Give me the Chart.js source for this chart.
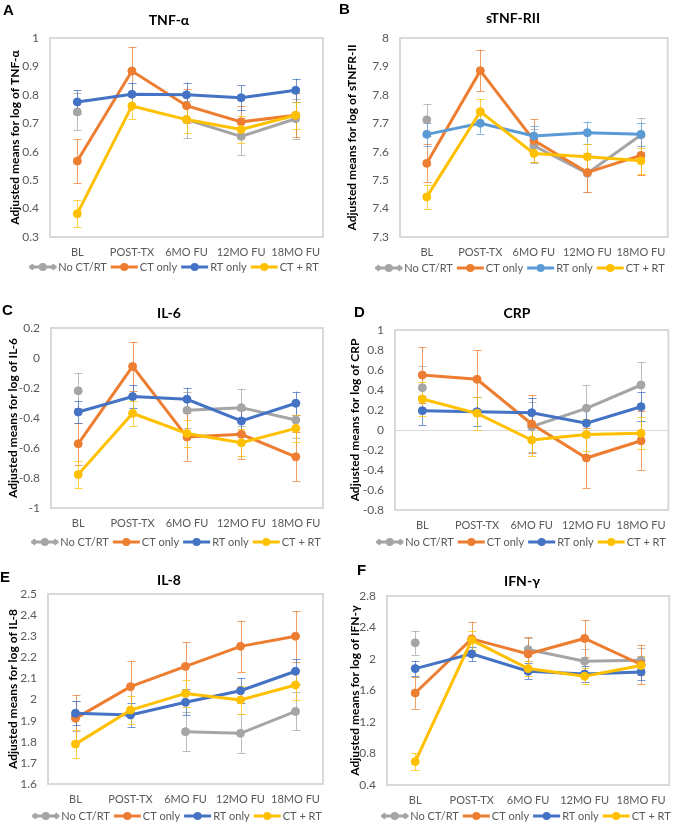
<!DOCTYPE html>
<html><head><meta charset="utf-8">
<script src="https://cdn.jsdelivr.net/npm/chart.js@4.4.1/dist/chart.umd.min.js"></script>
<style>
html,body{margin:0;padding:0;background:#fff;}
body{width:675px;height:823px;position:relative;overflow:hidden;}
canvas{position:absolute;display:block;}
</style></head><body>
<canvas id="cA" width="337" height="275" style="left:0;top:0"></canvas>
<canvas id="cB" width="338" height="275" style="left:337px;top:0"></canvas>
<canvas id="cC" width="337" height="273" style="left:0;top:275px"></canvas>
<canvas id="cD" width="338" height="273" style="left:337px;top:275px"></canvas>
<canvas id="cE" width="337" height="275" style="left:0;top:548px"></canvas>
<canvas id="cF" width="338" height="275" style="left:337px;top:548px"></canvas>
<script>
// ---- categories & series ----
const categories = ['BL', 'POST-TX', '6MO FU', '12MO FU', '18MO FU'];
const seriesNames = ['No CT/RT', 'CT only', 'RT only', 'CT + RT'];

// ---- A: TNF-alpha ----
const tnfTicks = [0.3, 0.4, 0.5, 0.6, 0.7, 0.8, 0.9, 1];
const tnfNoCTRT = [0.740, null, 0.713, 0.654, 0.716];
const tnfCTonly = [0.567, 0.884, 0.762, 0.705, 0.728];
const tnfRTonly = [0.775, 0.802, 0.800, 0.790, 0.816];
const tnfCTRT   = [0.382, 0.761, 0.713, 0.678, 0.728];
const tnfNoCTRTErr = [0.065, null, 0.065, 0.065, 0.070];
const tnfCTonlyErr = [0.078, 0.084, 0.060, 0.055, 0.078];
const tnfRTonlyErr = [0.041, 0.041, 0.043, 0.043, 0.041];
const tnfCTRTErr   = [0.047, 0.047, 0.047, 0.047, 0.048];

// ---- B: sTNF-RII ----
const stnfTicks = [7.3, 7.4, 7.5, 7.6, 7.7, 7.8, 7.9, 8];
const stnfNoCTRT = [7.712, null, 7.621, 7.524, 7.659];
const stnfCTonly = [7.559, 7.885, 7.640, 7.527, 7.587];
const stnfRTonly = [7.661, 7.700, 7.655, 7.667, 7.661];
const stnfCTRT   = [7.441, 7.741, 7.594, 7.582, 7.568];
const stnfNoCTRTErr = [0.055, null, 0.060, 0.065, 0.060];
const stnfCTonlyErr = [0.067, 0.073, 0.075, 0.070, 0.070];
const stnfRTonlyErr = [0.040, 0.036, 0.035, 0.039, 0.040];
const stnfCTRTErr   = [0.043, 0.044, 0.030, 0.045, 0.045];

// ---- C: IL-6 ----
const il6Ticks = [-1, -0.8, -0.6, -0.4, -0.2, 0, 0.2];
const il6NoCTRT = [-0.219, null, -0.349, -0.331, -0.413];
const il6CTonly = [-0.572, -0.056, -0.527, -0.509, -0.659];
const il6RTonly = [-0.360, -0.257, -0.275, -0.420, -0.302];
const il6CTRT   = [-0.777, -0.369, -0.503, -0.565, -0.469];
const il6NoCTRTErr = [0.116, null, 0.120, 0.123, 0.120];
const il6CTonlyErr = [0.140, 0.165, 0.160, 0.165, 0.163];
const il6RTonlyErr = [0.074, 0.075, 0.078, 0.075, 0.078];
const il6CTRTErr   = [0.090, 0.085, 0.090, 0.090, 0.090];

// ---- D: CRP ----
const crpTicks = [-0.8, -0.6, -0.4, -0.2, 0, 0.2, 0.4, 0.6, 0.8, 1];
const crpNoCTRT = [0.423, null, 0.033, 0.217, 0.450];
const crpCTonly = [0.550, 0.507, 0.060, -0.280, -0.107];
const crpRTonly = [0.193, 0.183, 0.173, 0.067, 0.233];
const crpCTRT   = [0.310, 0.167, -0.100, -0.045, -0.033];
const crpNoCTRTErr = [0.220, null, 0.250, 0.233, 0.227];
const crpCTonlyErr = [0.277, 0.293, 0.290, 0.300, 0.293];
const crpRTonlyErr = [0.143, 0.145, 0.145, 0.140, 0.145];
const crpCTRTErr   = [0.170, 0.165, 0.160, 0.160, 0.160];

// ---- E: IL-8 ----
const il8Ticks = [1.6, 1.7, 1.8, 1.9, 2, 2.1, 2.2, 2.3, 2.4, 2.5];
const il8NoCTRT = [1.921, null, 1.848, 1.840, 1.944];
const il8CTonly = [1.911, 2.061, 2.157, 2.252, 2.300];
const il8RTonly = [1.935, 1.927, 1.987, 2.042, 2.134];
const il8CTRT   = [1.789, 1.950, 2.029, 1.998, 2.069];
const il8NoCTRTErr = [0.070, null, 0.093, 0.093, 0.090];
const il8CTonlyErr = [0.110, 0.120, 0.117, 0.122, 0.120];
const il8RTonlyErr = [0.057, 0.058, 0.062, 0.060, 0.058];
const il8CTRTErr   = [0.066, 0.065, 0.064, 0.065, 0.070];

// ---- F: IFN-gamma ----
const ifnTicks = [0.4, 0.8, 1.2, 1.6, 2, 2.4, 2.8];
const ifnNoCTRT = [2.205, null, 2.120, 1.972, 1.985];
const ifnCTonly = [1.568, 2.255, 2.065, 2.261, 1.930];
const ifnRTonly = [1.878, 2.065, 1.844, 1.810, 1.836];
const ifnCTRT   = [0.697, 2.240, 1.878, 1.781, 1.917];
const ifnNoCTRTErr = [0.150, null, 0.150, 0.150, 0.150];
const ifnCTonlyErr = [0.200, 0.220, 0.210, 0.230, 0.250];
const ifnRTonlyErr = [0.100, 0.093, 0.100, 0.100, 0.100];
const ifnCTRTErr   = [0.110, 0.120, 0.100, 0.100, 0.120];

// ---- styling ----
const FONT = "Lato, 'DejaVu Sans', sans-serif";
const GRAY = '#A5A5A5', ORANGE = '#ED7D31', BLUE = '#4472C4', LBLUE = '#5B9BD5', YELLOW = '#FFC000';

const panels = [
  {id:'cA', letter:'A', title:'TNF-α', yTitle:'Adjusted means for log of TNF-α', ticks:tnfTicks,
   means:[tnfNoCTRT,tnfCTonly,tnfRTonly,tnfCTRT], errs:[tnfNoCTRTErr,tnfCTonlyErr,tnfRTonlyErr,tnfCTRTErr],
   rt:BLUE, plot:{l:50,r:323,t:38,b:237}, letterPos:[3,3], titlePos:[169,20], yTitleX:15, legend:[174,267]},
  {id:'cB', letter:'B', title:'sTNF-RII', yTitle:'Adjusted means for log of sTNFR-II', ticks:stnfTicks,
   means:[stnfNoCTRT,stnfCTonly,stnfRTonly,stnfCTRT], errs:[stnfNoCTRTErr,stnfCTonlyErr,stnfRTonlyErr,stnfCTRTErr],
   rt:LBLUE, plot:{l:63,r:332,t:38,b:237}, letterPos:[2,2], titlePos:[176,18], yTitleX:15, legend:[183,268]},
  {id:'cC', letter:'C', title:'IL-6', yTitle:'Adjusted means for log of IL-6', ticks:il6Ticks,
   means:[il6NoCTRT,il6CTonly,il6RTonly,il6CTRT], errs:[il6NoCTRTErr,il6CTonlyErr,il6RTonlyErr,il6CTRTErr],
   rt:BLUE, plot:{l:51,r:323,t:53,b:233}, letterPos:[2,28], titlePos:[169,38], yTitleX:13, legend:[176,267]},
  {id:'cD', letter:'D', title:'CRP', yTitle:'Adjusted means for log of CRP', ticks:crpTicks,
   means:[crpNoCTRT,crpCTonly,crpRTonly,crpCTRT], errs:[crpNoCTRTErr,crpCTonlyErr,crpRTonlyErr,crpCTRTErr],
   rt:BLUE, plot:{l:58,r:333,t:55,b:235}, letterPos:[17,30], titlePos:[180,38], yTitleX:18, legend:[184,267], zero:true},
  {id:'cE', letter:'E', title:'IL-8', yTitle:'Adjusted means for log of IL-8', ticks:il8Ticks,
   means:[il8NoCTRT,il8CTonly,il8RTonly,il8CTRT], errs:[il8NoCTRTErr,il8CTonlyErr,il8RTonlyErr,il8CTRTErr],
   rt:BLUE, plot:{l:48,r:323,t:46,b:236}, letterPos:[0,22], titlePos:[169,32], yTitleX:13, legend:[177,268]},
  {id:'cF', letter:'F', title:'IFN-γ', yTitle:'Adjusted means for log of IFN-γ', ticks:ifnTicks,
   means:[ifnNoCTRT,ifnCTonly,ifnRTonly,ifnCTRT], errs:[ifnNoCTRTErr,ifnCTonlyErr,ifnRTonlyErr,ifnCTRTErr],
   rt:BLUE, plot:{l:50,r:333,t:48,b:237}, letterPos:[20,15], titlePos:[185,33], yTitleX:18, legend:[189,268]}
];

function hexA(hex, a) {
  const n = parseInt(hex.slice(1), 16);
  return `rgba(${(n>>16)&255},${(n>>8)&255},${n&255},${a})`;
}

const panelPlugin = {
  id: 'panelDeco',
  beforeDatasetsDraw(chart) {
    const ctx = chart.ctx, a = chart.chartArea;
    ctx.save();
    // plot frame
    ctx.strokeStyle = '#D9D9D9';
    ctx.lineWidth = 2;
    ctx.strokeRect(a.left, a.top, a.right - a.left, a.bottom - a.top);
    // error bars
    const ys = chart.scales.y;
    chart.data.datasets.forEach((ds, i) => {
      const meta = chart.getDatasetMeta(i);
      ctx.strokeStyle = hexA(ds.borderColor, 0.75);
      ctx.lineWidth = 1;
      ds.data.forEach((v, j) => {
        const e = ds.errs[j];
        if (v == null || e == null) return;
        const x = Math.round(meta.data[j].x) + 0.5;
        const y1 = ys.getPixelForValue(v + e), y2 = ys.getPixelForValue(v - e);
        ctx.beginPath();
        ctx.moveTo(x, y1); ctx.lineTo(x, y2);
        ctx.moveTo(x - 4, Math.round(y1) + 0.5); ctx.lineTo(x + 4, Math.round(y1) + 0.5);
        ctx.moveTo(x - 4, Math.round(y2) + 0.5); ctx.lineTo(x + 4, Math.round(y2) + 0.5);
        ctx.stroke();
      });
    });
    ctx.restore();
  },
  afterDraw(chart) {
    const p = chart.options.plugins.panelDeco;
    const ctx = chart.ctx;
    ctx.save();
    // panel letter
    ctx.fillStyle = '#000';
    ctx.font = "bold 15px 'Liberation Sans', Arial, sans-serif";
    ctx.textBaseline = 'top'; ctx.textAlign = 'left';
    ctx.fillText(p.letter, p.letterPos[0], p.letterPos[1]);
    // title
    ctx.font = 'bold 14px ' + FONT;
    ctx.textBaseline = 'middle'; ctx.textAlign = 'center';
    ctx.fillText(p.title, p.titlePos[0], p.titlePos[1]);
    // legend
    ctx.font = '11px ' + FONT;
    const symW = 27, gapT = 2, gapI = 4;
    const colors = chart.data.datasets.map(d => d.borderColor);
    const widths = seriesNames.map(n => ctx.measureText(n).width);
    let total = widths.reduce((s, w) => s + symW + gapT + w, 0) + gapI * (seriesNames.length - 1);
    let x = p.legend[0] - total / 2;
    const cy = p.legend[1];
    seriesNames.forEach((n, i) => {
      const c = colors[i];
      ctx.strokeStyle = c; ctx.fillStyle = c; ctx.lineWidth = 3;
      ctx.beginPath(); ctx.moveTo(x, cy); ctx.lineTo(x + symW, cy); ctx.stroke();
      ctx.beginPath(); ctx.arc(x + symW / 2, cy, 4, 0, Math.PI * 2); ctx.fill();
      if (i === 0) {
        [x + 3, x + symW - 3].forEach(dx => {
          ctx.beginPath();
          ctx.moveTo(dx, cy - 3.5); ctx.lineTo(dx + 3.5, cy); ctx.lineTo(dx, cy + 3.5); ctx.lineTo(dx - 3.5, cy);
          ctx.closePath(); ctx.fill();
        });
      }
      ctx.fillStyle = '#595959';
      ctx.textAlign = 'left'; ctx.textBaseline = 'middle';
      ctx.fillText(n, x + symW + gapT, cy + 0.5);
      x += symW + gapT + widths[i] + gapI;
    });
    ctx.restore();
  }
};

panels.forEach(p => {
  const canvas = document.getElementById(p.id);
  const W = canvas.width, H = canvas.height;
  const colors = [GRAY, ORANGE, p.rt, YELLOW];
  new Chart(canvas, {
    type: 'line',
    data: {
      labels: categories,
      datasets: seriesNames.map((name, i) => ({
        label: name,
        data: p.means[i],
        errs: p.errs[i],
        borderColor: colors[i],
        backgroundColor: colors[i],
        pointBackgroundColor: colors[i],
        pointBorderColor: colors[i],
        borderWidth: 3,
        pointRadius: 4,
        pointHoverRadius: 4,
        pointBorderWidth: 1,
        tension: 0,
        spanGaps: false,
        order: 4 - i
      }))
    },
    options: {
      responsive: false,
      animation: false,
      events: [],
      layout: { padding: { left: 0, top: p.plot.t, right: W - p.plot.r, bottom: 0 } },
      plugins: {
        legend: { display: false },
        title: { display: false },
        tooltip: { enabled: false },
        panelDeco: p
      },
      scales: {
        x: {
          type: 'category',
          offset: true,
          grid: { display: false, drawTicks: false },
          border: { display: false },
          ticks: { color: '#595959', font: { family: FONT, size: 11 }, padding: 9, autoSkip: false, maxRotation: 0 },
          afterFit: s => { s.height = H - p.plot.b; }
        },
        y: {
          type: 'linear',
          min: p.ticks[0],
          max: p.ticks[p.ticks.length - 1],
          grid: p.zero ? {
            display: true, drawTicks: false, lineWidth: 1,
            color: c => (c.tick && Math.abs(c.tick.value) < 1e-9) ? '#D9D9D9' : 'rgba(0,0,0,0)'
          } : { display: false, drawTicks: false },
          border: { display: false },
          afterBuildTicks: s => { s.ticks = p.ticks.map(v => ({ value: v })); },
          ticks: { color: '#595959', font: { family: FONT, size: 12 }, padding: 11, callback: v => String(v) },
          title: { display: true, text: p.yTitle, color: '#000', font: { family: FONT, size: 12, weight: 'bold' },
                   padding: { top: p.yTitleX - 7.2, bottom: 0 } },
          afterFit: s => { s.width = p.plot.l; }
        }
      }
    },
    plugins: [panelPlugin]
  });
});
</script>
</body></html>
